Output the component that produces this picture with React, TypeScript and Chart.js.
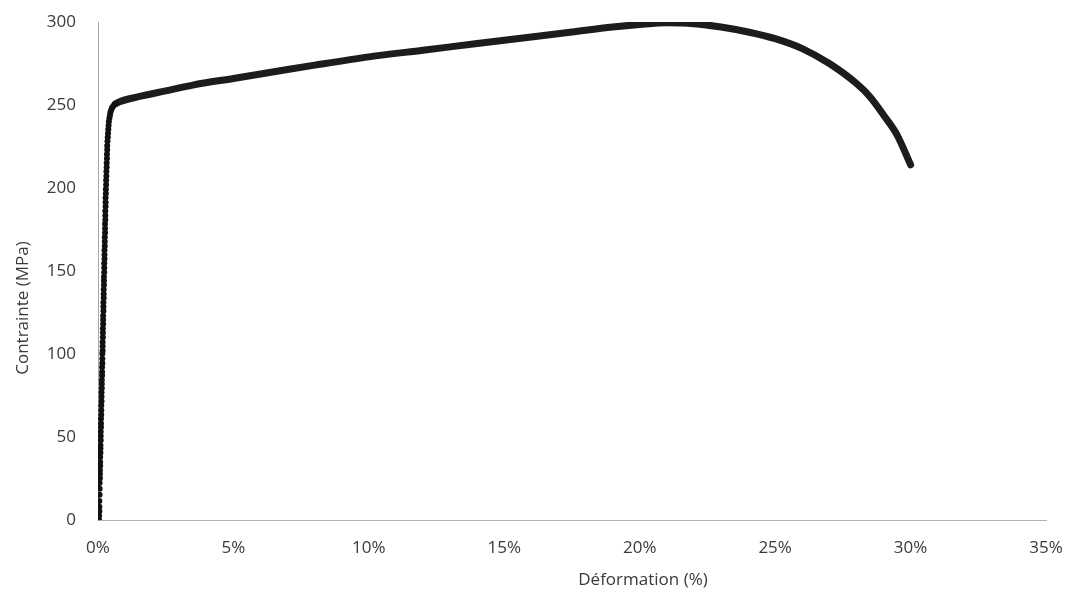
import React, { useEffect, useRef } from "react";
import { Chart, registerables } from "chart.js";

Chart.register(...registerables);

// Elastic region (individual measured points)
const elasticStrain = [
  0.04, 0.04, 0.05, 0.05, 0.05, 0.06, 0.06, 0.06, 0.07, 0.07, 0.07, 0.08, 0.08, 0.08, 0.09, 0.09, 0.09,
  0.1, 0.1, 0.1, 0.11, 0.11, 0.11, 0.12, 0.12, 0.12, 0.13, 0.13, 0.13, 0.14, 0.14, 0.14, 0.15, 0.15,
  0.15, 0.16, 0.16, 0.16, 0.17, 0.17, 0.17, 0.18, 0.18, 0.18, 0.19, 0.19, 0.19, 0.2, 0.2, 0.2, 0.21,
  0.21, 0.21, 0.22, 0.22, 0.22, 0.23, 0.23, 0.23, 0.24, 0.24, 0.24, 0.25, 0.25, 0.25, 0.26, 0.26, 0.26,
  0.27, 0.27, 0.27, 0.28, 0.28, 0.28, 0.29, 0.29, 0.3, 0.3, 0.31, 0.31, 0.32, 0.32, 0.33, 0.33, 0.34,
  0.34, 0.35, 0.36, 0.37, 0.38, 0.39, 0.4, 0.42, 0.44, 0.46, 0.49, 0.52, 0.56, 0.6, 0.65,
];
const elasticStress = [
  0, 2.6, 5.2, 8.0, 11.4, 15.2, 18.9, 22.3, 25.1, 27.7, 30.0, 32.7, 35.0, 38.0, 40.5, 43.0, 45.1,
  48.0, 50.6, 53.2, 55.8, 58.1, 61.0, 63.4, 66.1, 69.0, 71.5, 74.3, 76.8, 79.4, 81.9, 84.4, 87.0, 89.1,
  92.0, 94.5, 97.2, 100.1, 102.0, 104.6, 107.2, 110.1, 112.8, 115.3, 118.0, 120.6, 123.1, 125.9, 128.4,
  131.0, 133.7, 136.2, 138.8, 141.5, 144.1, 146.6, 149.3, 152.0, 154.6, 157.2, 159.8, 162.5, 165.1,
  167.7, 170.4, 173.0, 175.6, 178.3, 180.9, 183.5, 186.2, 188.8, 191.4, 194.1, 196.7, 199.3, 202.0,
  204.6, 207.2, 209.9, 212.5, 215.1, 217.8, 220.4, 223.0, 225.5, 228.1, 230.6, 233.0, 235.4, 237.7,
  239.9, 242.0, 243.9, 245.6, 247.1, 248.3, 249.3, 250.1, 250.8,
];

// Plastic region (dense band of points)
const plasticStrain = [
  0.65, 0.8, 1.5, 2.5, 3.5, 5, 6.5, 8, 10, 12, 14, 16, 17.5, 19, 20, 21, 22, 23, 24, 25, 26, 27, 28,
  28.5, 29, 29.5, 30,
];
const plasticStress = [
  250.8, 252, 255, 258.5, 262, 266, 270, 274, 279, 283, 287, 291, 294, 297, 298.5, 299.5, 299, 297,
  294, 290, 284, 275, 263, 255, 244, 232, 214,
];

const xTicks = [0, 5, 10, 15, 20, 25, 30, 35];
const yTicks = [0, 50, 100, 150, 200, 250, 300];

const xTitle = "Déformation (%)";
const yTitle = "Contrainte (MPa)";

const FONT = '"Open Sans", "DejaVu Sans", sans-serif';

export default function App() {
  const ref = useRef<HTMLCanvasElement | null>(null);

  useEffect(() => {
    if (!ref.current) return;
    const titlePlugin = {
      id: "axisTitles",
      afterDraw(chart: any) {
        const ctx = chart.ctx;
        ctx.save();
        ctx.fillStyle = "#3a3a3a";
        ctx.font = `17px ${FONT}`;
        ctx.textAlign = "center";
        ctx.textBaseline = "middle";
        ctx.fillText(xTitle, 643, 580);
        ctx.translate(23, 308);
        ctx.rotate(-Math.PI / 2);
        ctx.fillText(yTitle, 0, 0);
        ctx.restore();
      },
    };
    const chart = new Chart(ref.current, {
      type: "scatter",
      data: {
        datasets: [
          {
            label: "elastic",
            data: elasticStrain.map((x, i) => ({ x, y: elasticStress[i] })),
            pointRadius: 3,
            pointBackgroundColor: "#111",
            pointBorderColor: "#111",
            pointBorderWidth: 0,
            showLine: false,
          },
          {
            label: "plastic",
            data: plasticStrain.map((x, i) => ({ x, y: plasticStress[i] })),
            showLine: true,
            borderColor: "#1c1c1c",
            borderWidth: 7,
            pointRadius: 0,
            cubicInterpolationMode: "monotone",
            borderCapStyle: "round",
          } as any,
        ],
      },
      options: {
        animation: false,
        responsive: false,
        maintainAspectRatio: false,
        layout: { padding: { top: 22, right: 25, left: 0, bottom: 0 } },
        plugins: { legend: { display: false }, tooltip: { enabled: false } },
        scales: {
          x: {
            type: "linear",
            min: 0,
            max: 35,
            afterFit: (s: any) => {
              s.height = 78;
              s.paddingLeft = 0;
              s.paddingRight = 0;
            },
            afterBuildTicks: (s: any) => {
              s.ticks = xTicks.map((v) => ({ value: v }));
            },
            grid: { display: false, drawTicks: false },
            border: { display: true, color: "rgba(0,0,0,0.3)", dash: [1, 6], width: 1 },
            ticks: {
              padding: 18,
              color: "#3a3a3a",
              font: { family: FONT, size: 17 },
              callback: (v: any) => `${v}%`,
            },
          },
          y: {
            type: "linear",
            min: 0,
            max: 300,
            afterFit: (s: any) => {
              s.width = 98;
              s.paddingTop = 0;
              s.paddingBottom = 0;
            },
            afterBuildTicks: (s: any) => {
              s.ticks = yTicks.map((v) => ({ value: v }));
            },
            grid: { display: false, drawTicks: false },
            border: { display: true, color: "rgba(0,0,0,0.35)", dash: [1, 2], width: 1 },
            ticks: {
              padding: 22,
              color: "#3a3a3a",
              font: { family: FONT, size: 17 },
            },
          },
        },
      },
      plugins: [titlePlugin],
    } as any);
    return () => chart.destroy();
  }, []);

  return (
    <div style={{ position: "fixed", left: 0, top: 0, width: 1071, height: 598, background: "#fff" }}>
      <canvas ref={ref} width={1071} height={598} style={{ width: 1071, height: 598 }} />
    </div>
  );
}
